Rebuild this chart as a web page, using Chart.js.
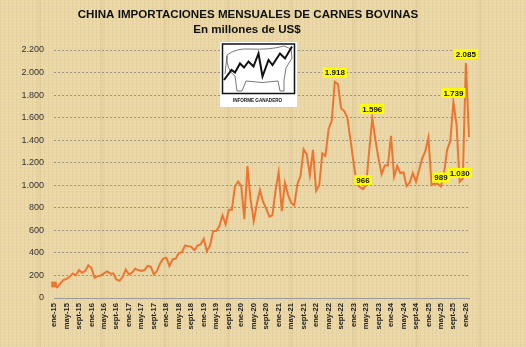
<!DOCTYPE html>
<html lang="es">
<head>
<meta charset="utf-8">
<title>China importaciones mensuales de carnes bovinas</title>
<script src="https://cdn.jsdelivr.net/npm/chart.js@4.4.1/dist/chart.umd.min.js"></script>
<style>
  html, body { margin: 0; padding: 0; }
  body {
    width: 526px;
    height: 347px;
    overflow: hidden;
    background-color: #ead7a6;
    background-image:
      repeating-linear-gradient(90deg, rgba(150, 110, 50, 0.07) 0 1px, transparent 1px 4px),
      repeating-linear-gradient(0deg, rgba(255, 250, 225, 0.10) 0 1px, transparent 1px 3px),
      repeating-linear-gradient(90deg, transparent 0 37px, rgba(170, 130, 70, 0.08) 37px 41px, transparent 41px 63px);
  }
  canvas { display: block; }
</style>
</head>
<body>
<canvas id="imports" width="526" height="347"></canvas>
<script>
// monthly categories, ene-15 .. feb-26
const monthNames = ['ene', 'feb', 'mar', 'abr', 'may', 'jun', 'jul', 'ago', 'sept', 'oct', 'nov', 'dic'];
const firstYear = 15;
const monthCount = 134;
const months = [];
for (let i = 0; i < monthCount; i++) {
  months.push(monthNames[i % 12] + '-' + (firstYear + Math.floor(i / 12)));
}

// millions of US$
const imports = [
  120, 95, 128, 158, 170, 188, 218, 200, 248, 224, 239, 290,
  265, 180, 194, 200, 218, 236, 218, 218, 164, 152, 188, 254,
  209, 224, 260, 248, 239, 248, 284, 278, 209, 239, 307, 349,
  358, 285, 343, 349, 400, 406, 466, 460, 454, 424, 466, 475,
  525, 415, 466, 594, 594, 639, 734, 654, 782, 782, 991, 1033,
  997, 699, 1170, 872, 684, 833, 958, 854, 794, 722, 734, 952,
  1116, 770, 1022, 915, 846, 822, 1009, 1083, 1320, 1275, 1089, 1314,
  950, 1000, 1284, 1260, 1497, 1571, 1918, 1897, 1681, 1660, 1601, 1408,
  1201, 1010, 985, 966, 1000, 1300, 1596, 1403, 1240, 1100, 1175, 1175,
  1438, 1076, 1172, 1108, 1114, 992, 1025, 1108, 1032, 1135, 1236, 1302,
  1425, 1003, 1015, 1012, 989, 1110, 1317, 1391, 1739, 1539, 1030, 1060,
  2085, 1428
];

// months that carry a value tag
const tagged = [90, 99, 102, 124, 128, 130, 132];

const yMin = 0;
const yMax = 2200;
const yStep = 200;

const orange = '#ec7631';
const fmt = v => String(Math.round(v)).replace(/\B(?=(\d{3})+(?!\d))/g, '.');

const header = {
  id: 'header',
  beforeDraw(chart) {
    const ctx = chart.ctx;
    ctx.save();
    ctx.fillStyle = '#111';
    ctx.textAlign = 'center';
    ctx.textBaseline = 'middle';
    ctx.font = 'bold 11.6px "Liberation Sans", Arial, sans-serif';
    ctx.fillText('CHINA IMPORTACIONES MENSUALES DE CARNES BOVINAS', 248, 15);
    ctx.fillText('En millones de US$', 247, 30);
    ctx.restore();
  }
};

// small "Informe Ganadero" badge
const badge = {
  id: 'badge',
  afterDraw(chart) {
    const ctx = chart.ctx;
    ctx.save();
    ctx.fillStyle = '#fff';
    ctx.fillRect(220, 42, 77, 65);
    ctx.strokeStyle = '#111';
    ctx.lineWidth = 1.5;
    ctx.strokeRect(222.5, 44, 72, 49.5);

    // cow outline
    ctx.strokeStyle = '#555';
    ctx.lineWidth = 0.8;
    ctx.beginPath();
    ctx.moveTo(227, 55);
    ctx.quadraticCurveTo(236, 48, 250, 49);
    ctx.quadraticCurveTo(270, 50, 284, 46);
    ctx.lineTo(291, 49);
    ctx.lineTo(292, 58);
    ctx.lineTo(286, 68);
    ctx.lineTo(284, 80);
    ctx.lineTo(284, 91);
    ctx.lineTo(280, 91);
    ctx.lineTo(278, 81);
    ctx.quadraticCurveTo(262, 84, 246, 81);
    ctx.lineTo(242, 91);
    ctx.lineTo(237, 91);
    ctx.lineTo(235, 76);
    ctx.quadraticCurveTo(226, 70, 227, 55);
    ctx.moveTo(227, 56);
    ctx.lineTo(225, 74);
    ctx.stroke();

    // trend zigzag
    ctx.strokeStyle = '#111';
    ctx.lineWidth = 2;
    ctx.lineJoin = 'miter';
    ctx.beginPath();
    [[224, 80], [231.5, 70], [235, 72.5], [240, 63.5], [244, 67.5], [248.5, 61.5],
     [253.5, 66.5], [258.5, 53.5], [262.5, 76.5], [268.5, 60], [272.5, 65],
     [280, 53.5], [285, 58.5], [292, 46.5]].forEach(([x, y], i) => {
      if (i === 0) ctx.moveTo(x, y); else ctx.lineTo(x, y);
    });
    ctx.stroke();

    ctx.fillStyle = '#111';
    ctx.font = 'bold 4.6px "Liberation Sans", Arial, sans-serif';
    ctx.textAlign = 'center';
    ctx.textBaseline = 'middle';
    ctx.fillText('INFORME GANADERO', 257.5, 100.5);
    ctx.restore();
  }
};

// yellow value tags above selected months
const valueTags = {
  id: 'valueTags',
  afterDatasetsDraw(chart) {
    const ctx = chart.ctx;
    const meta = chart.getDatasetMeta(0);
    ctx.save();
    ctx.font = 'bold 8px "Liberation Sans", Arial, sans-serif';
    ctx.textAlign = 'center';
    ctx.textBaseline = 'middle';
    tagged.forEach(i => {
      const pt = meta.data[i];
      const text = fmt(imports[i]);
      const w = ctx.measureText(text).width + 4;
      const h = 10;
      const cx = pt.x;
      const cy = pt.y - 9;
      ctx.fillStyle = '#ffff00';
      ctx.fillRect(cx - w / 2, cy - h / 2, w, h);
      ctx.fillStyle = '#111';
      ctx.fillText(text, cx, cy + 0.5);
    });
    ctx.restore();
  }
};

new Chart(document.getElementById('imports').getContext('2d'), {
  type: 'line',
  data: {
    labels: months,
    datasets: [{
      data: imports,
      borderColor: orange,
      backgroundColor: orange,
      borderWidth: 2,
      tension: 0,
      pointStyle: 'rect',
      pointRadius: ctx => (ctx.dataIndex === 0 ? 4 : 0),
      pointBorderWidth: 0
    }]
  },
  options: {
    responsive: false,
    animation: false,
    layout: { padding: { top: 50, right: 57, bottom: 0, left: 0 } },
    plugins: {
      legend: { display: false },
      tooltip: { enabled: false }
    },
    scales: {
      x: {
        offset: false,
        grid: { display: false, drawTicks: false },
        border: { display: true, color: '#9c9c9c', width: 1 },
        afterFit: scale => { scale.height = 49; },
        ticks: {
          autoSkip: false,
          minRotation: 90,
          maxRotation: 90,
          padding: 5,
          color: '#222',
          font: { family: '"Liberation Sans", Arial, sans-serif', size: 7.6, weight: 'bold' },
          callback(value, index) {
            return index % 4 === 0 ? this.getLabelForValue(value) : '';
          }
        }
      },
      y: {
        min: yMin,
        max: yMax,
        afterFit: scale => { scale.width = 54; },
        grid: { color: 'rgba(120, 120, 120, 0.7)', lineWidth: 1, drawTicks: false },
        border: { display: false, dash: [2, 2] },
        ticks: {
          stepSize: yStep,
          padding: 10,
          color: '#333',
          font: { family: '"Liberation Sans", Arial, sans-serif', size: 9 },
          callback: v => fmt(v)
        }
      }
    }
  },
  plugins: [header, badge, valueTags]
});
</script>
</body>
</html>
